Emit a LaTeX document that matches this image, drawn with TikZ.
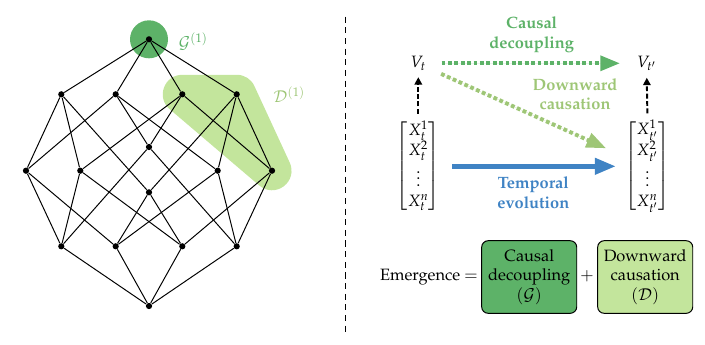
\documentclass[tikz,border=0pt]{standalone}
\usepackage[T1]{fontenc}
\usepackage{amsmath}
\usepackage{mathpazo}
\usetikzlibrary{arrows.meta,backgrounds}
\definecolor{gdark}{RGB}{93,178,104}
\definecolor{glight}{RGB}{195,229,156}
\definecolor{gmid}{RGB}{158,198,118}
\definecolor{tblue}{RGB}{63,131,196}
\tikzset{
  dot/.style={circle,fill=black,inner sep=0pt,minimum size=3.8pt},
  edge/.style={line width=0.6pt,black},
  sqdots/.style={line width=2.4pt,dash pattern=on 2.3pt off 1.6pt},
  bigtip/.style={-{Triangle[length=12pt,width=9pt]}},
  vdash/.style={line width=1.2pt,dash pattern=on 3pt off 1.5pt,-{Triangle[length=4.5pt,width=4.5pt]}},
  lbl/.style={font=\bfseries,align=center},
  ebox/.style={draw=black,line width=0.6pt,rounded corners=4pt,minimum width=58pt,minimum height=44.3pt,align=center,inner sep=0pt},
  vnode/.style={inner sep=2pt}
}
\begin{document}
\begin{tikzpicture}[x=0.61pt,y=-0.61pt]
\useasboundingbox (0,0) rectangle (705,344);
% lattice nodes
\node[dot] (T) at (149,39.3) {};
\node[dot] (a) at (61.3,94.3) {};
\node[dot] (b) at (115.7,94.3) {};
\node[dot] (c) at (182.3,94.3) {};
\node[dot] (d) at (236.7,94.3) {};
\node[dot] (m1) at (26,170.7) {};
\node[dot] (m2) at (80.3,170.7) {};
\node[dot] (m3) at (149,147) {};
\node[dot] (m4) at (149,192.3) {};
\node[dot] (m5) at (217.7,170.7) {};
\node[dot] (m6) at (272,170.7) {};
\node[dot] (ap) at (61.3,246.3) {};
\node[dot] (bp) at (115.7,246.3) {};
\node[dot] (cp) at (182.3,246.3) {};
\node[dot] (dp) at (236.7,246.3) {};
\node[dot] (B) at (149,306) {};
\begin{scope}[on background layer]
  \fill[gdark] (T.center) circle[radius=19];
  \filldraw[glight,line width=23.8pt,line join=round] (c.center) -- (d.center) -- (m6.center) -- cycle;
\end{scope}
\node[text=gdark] (Glab) at (193.3,41.7) {$\mathcal{G}^{(1)}$};
\node[text=gmid] (Dlab) at (289.3,94.3) {$\mathcal{D}^{(1)}$};
% edges
\foreach \u in {a,b,c,d} \draw[edge] (T) -- (\u);
\foreach \u/\v in {a/m1,a/m2,a/m4,b/m1,b/m3,b/m5,c/m2,c/m3,c/m6,d/m4,d/m5,d/m6,
  m1/ap,m1/bp,m2/ap,m2/cp,m3/ap,m3/dp,m4/bp,m4/cp,m5/bp,m5/dp,m6/cp,m6/dp}
  \draw[edge] (\u) -- (\v);
\foreach \u in {ap,bp,cp,dp} \draw[edge] (\u) -- (B);
% separator
\coordinate (septop) at (345,16.7);
\coordinate (sepbot) at (345,333);
\draw[line width=0.6pt,dash pattern=on 3.7pt off 2.8pt] (septop) -- (sepbot);
% right diagram
\node[vnode] (Vt) at (418.3,63.3) {$V_t$};
\node[vnode] (Vtp) at (646.7,63.3) {$V_{t'}$};
\node[inner sep=0pt] (Xl) at (418.3,166.3) {$\begin{bmatrix} X_t^1\\ X_t^2\\ \vdots\\ X_t^n\end{bmatrix}$};
\node[inner sep=0pt] (Xr) at (647.5,166.3) {$\begin{bmatrix} X_{t'}^1\\ X_{t'}^2\\ \vdots\\ X_{t'}^n\end{bmatrix}$};
\draw[sqdots,bigtip,draw=gdark,fill=gdark,shorten <=7.3pt,shorten >=8.2pt] (Vt.east) -- (Vtp.west);
\draw[sqdots,bigtip,draw=gmid,fill=gmid] ([xshift=7pt]Vt.south east) -- ([xshift=-11.6pt,yshift=11pt]Xr.west);
\draw[line width=3.3pt,draw=tblue,-{Triangle[length=13pt,width=9.5pt]},shorten <=7.1pt,shorten >=5.5pt] (Xl.east) -- (Xr.west);
\draw[vdash,shorten <=4pt,shorten >=2pt] (Xl.north) -- (Vt.south);
\draw[vdash,shorten <=4pt,shorten >=2pt] (Xr.north) -- (Vtp.south);
\node[lbl,text=gdark] (cdl) at (531.7,35) {Causal\\decoupling};
\node[lbl,text=gmid] (dcl) at (575,94.2) {Downward\\causation};
\node[lbl,text=tblue] (tel) at (533.3,192.5) {Temporal\\evolution};
% bottom equation
\node (em) at (429,276.7) {Emergence $=$};
\node[ebox,fill=gdark] (box1) at (529.2,277) {Causal\\decoupling\\$(\mathcal{G})$};
\node (plus) at (587,276.7) {$+$};
\node[ebox,fill=glight] (box2) at (645.2,277) {Downward\\causation\\$(\mathcal{D})$};
\end{tikzpicture}
\end{document}
